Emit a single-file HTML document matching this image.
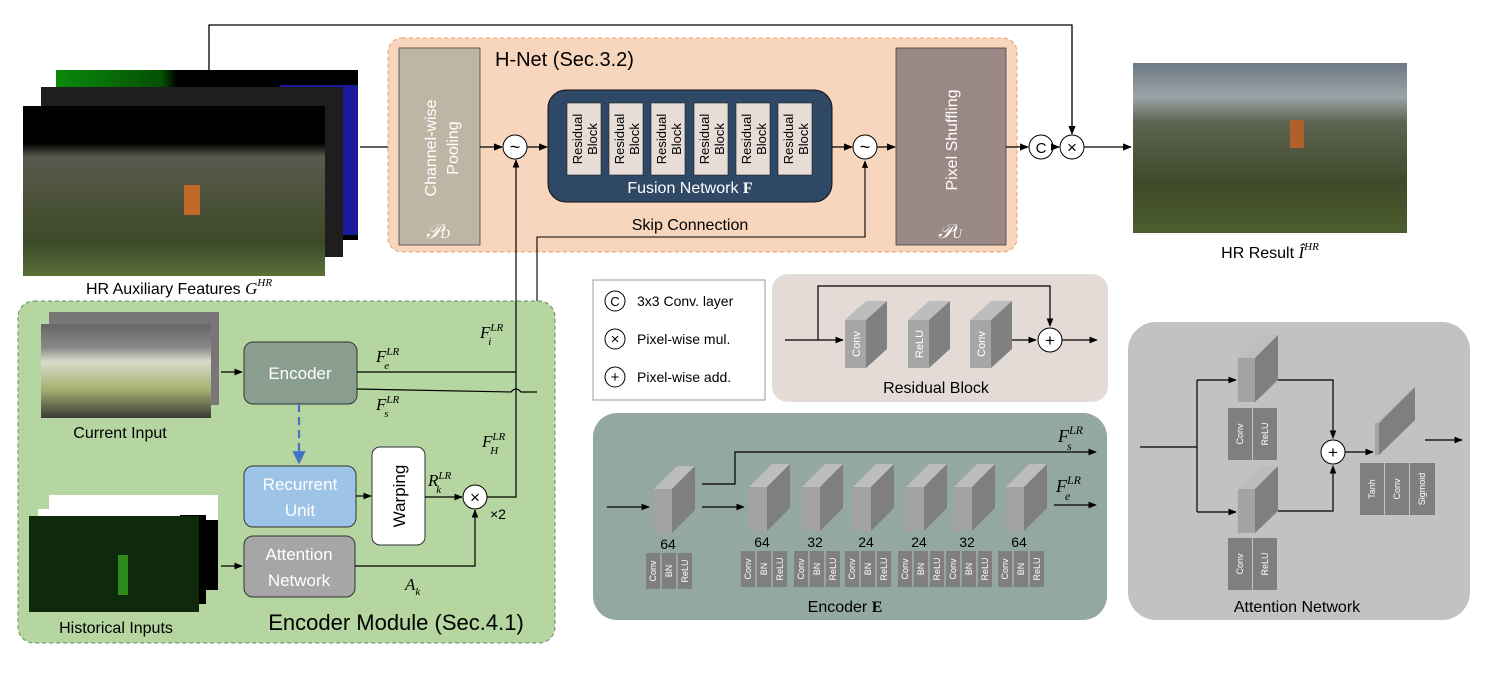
<!DOCTYPE html>
<html><head><meta charset="utf-8"><style>
html,body{margin:0;padding:0;background:#fff;}
svg{display:block;font-family:"Liberation Sans",sans-serif;}
.m{font-family:"Liberation Serif",serif;font-style:italic;}
</style></head><body>
<svg width="1512" height="680" viewBox="0 0 1512 680" xmlns="http://www.w3.org/2000/svg">
<defs>
<marker id="a" viewBox="0 0 10 10" refX="9" refY="5" markerWidth="7" markerHeight="7" orient="auto"><path d="M0,1 L10,5 L0,9 z" fill="#000"/></marker>
<marker id="ab" viewBox="0 0 10 10" refX="9" refY="5" markerWidth="6" markerHeight="6" orient="auto"><path d="M0,0 L10,5 L0,10 z" fill="#4472c4"/></marker>
<linearGradient id="land" x1="0" y1="0" x2="0" y2="1">
<stop offset="0" stop-color="#000"/><stop offset="0.22" stop-color="#000"/><stop offset="0.3" stop-color="#5a5a50"/><stop offset="0.55" stop-color="#4a5138"/><stop offset="0.8" stop-color="#3d4a2a"/><stop offset="1" stop-color="#5b7038"/></linearGradient>
<linearGradient id="res" x1="0" y1="0" x2="0" y2="1">
<stop offset="0" stop-color="#6d7a85"/><stop offset="0.2" stop-color="#9aa3a6"/><stop offset="0.35" stop-color="#5e6451"/><stop offset="0.7" stop-color="#3f4a2a"/><stop offset="1" stop-color="#4d5e2e"/></linearGradient>
<linearGradient id="cur" x1="0" y1="0" x2="0" y2="1">
<stop offset="0" stop-color="#666"/><stop offset="0.25" stop-color="#888"/><stop offset="0.4" stop-color="#d8dcc8"/><stop offset="0.7" stop-color="#a4b070"/><stop offset="1" stop-color="#3a3a34"/></linearGradient>
<linearGradient id="grn" x1="0" y1="0" x2="1" y2="0"><stop offset="0" stop-color="#0a8a0a"/><stop offset="0.35" stop-color="#045004"/><stop offset="0.4" stop-color="#000"/></linearGradient>
</defs>

<!-- top feedback line -->
<polyline points="209,70 209,25 1072,25 1072,134" fill="none" stroke="#000" stroke-width="1.3" marker-end="url(#a)"/>

<!-- HR auxiliary stack -->
<rect x="56" y="70" width="302" height="170" fill="url(#grn)"/>
<rect x="280" y="85" width="78" height="150" fill="#1a1a9a"/>
<rect x="41" y="87" width="302" height="170" fill="#1e1e1e"/>
<rect x="23" y="106" width="302" height="170" fill="url(#land)"/>
<rect x="184" y="185" width="16" height="30" fill="#c06a2a"/>
<text x="179" y="294" font-size="16" text-anchor="middle">HR Auxiliary Features <tspan class="m" font-size="17">G</tspan><tspan class="m" font-size="11" dy="-8">HR</tspan></text>
<line x1="360" y1="147" x2="396" y2="147" stroke="#000" stroke-width="1.3" marker-end="url(#a)"/>

<!-- H-Net -->
<rect x="388" y="38" width="629" height="214" rx="14" fill="#f8d5bd" stroke="#e8a070" stroke-width="1" stroke-dasharray="4,3"/>
<text x="495" y="66" font-size="20">H-Net (Sec.3.2)</text>
<rect x="399" y="48" width="81" height="197" fill="#bfb5a4" stroke="#444" stroke-width="0.8"/>
<text transform="translate(436,148) rotate(-90)" font-size="16" fill="#fff" text-anchor="middle">Channel-wise</text>
<text transform="translate(458,148) rotate(-90)" font-size="16" fill="#fff" text-anchor="middle">Pooling</text>
<text x="438" y="238" class="m" font-size="20" fill="#fff" text-anchor="middle">𝒫<tspan font-size="13">D</tspan></text>
<line x1="480" y1="147" x2="502" y2="147" stroke="#000" stroke-width="1.3" marker-end="url(#a)"/>
<circle cx="515" cy="147" r="12" fill="#fff" stroke="#000"/><text x="515" y="153" font-size="18" text-anchor="middle">~</text>
<line x1="527" y1="147" x2="547" y2="147" stroke="#000" stroke-width="1.3" marker-end="url(#a)"/>
<rect x="548" y="90" width="284" height="112" rx="18" fill="#2f4866" stroke="#111"/>
<g font-size="13" fill="#000">
<rect x="567" y="103" width="34" height="72" fill="#e8ddd6" stroke="#222" stroke-width="0.6"/><text transform="translate(582,139) rotate(-90)" text-anchor="middle">Residual</text><text transform="translate(597,139) rotate(-90)" text-anchor="middle">Block</text>
<rect x="609" y="103" width="34" height="72" fill="#e8ddd6" stroke="#222" stroke-width="0.6"/><text transform="translate(624,139) rotate(-90)" text-anchor="middle">Residual</text><text transform="translate(639,139) rotate(-90)" text-anchor="middle">Block</text>
<rect x="651" y="103" width="34" height="72" fill="#e8ddd6" stroke="#222" stroke-width="0.6"/><text transform="translate(666,139) rotate(-90)" text-anchor="middle">Residual</text><text transform="translate(681,139) rotate(-90)" text-anchor="middle">Block</text>
<rect x="694" y="103" width="34" height="72" fill="#e8ddd6" stroke="#222" stroke-width="0.6"/><text transform="translate(709,139) rotate(-90)" text-anchor="middle">Residual</text><text transform="translate(724,139) rotate(-90)" text-anchor="middle">Block</text>
<rect x="736" y="103" width="34" height="72" fill="#e8ddd6" stroke="#222" stroke-width="0.6"/><text transform="translate(751,139) rotate(-90)" text-anchor="middle">Residual</text><text transform="translate(766,139) rotate(-90)" text-anchor="middle">Block</text>
<rect x="778" y="103" width="34" height="72" fill="#e8ddd6" stroke="#222" stroke-width="0.6"/><text transform="translate(793,139) rotate(-90)" text-anchor="middle">Residual</text><text transform="translate(808,139) rotate(-90)" text-anchor="middle">Block</text>
</g>
<text x="690" y="193" font-size="16" fill="#fff" text-anchor="middle">Fusion Network  <tspan font-family="Liberation Serif" font-weight="bold">F</tspan></text>
<line x1="832" y1="147" x2="852" y2="147" stroke="#000" stroke-width="1.3" marker-end="url(#a)"/>
<circle cx="865" cy="147" r="12" fill="#fff" stroke="#000"/><text x="865" y="153" font-size="18" text-anchor="middle">~</text>
<line x1="877" y1="147" x2="895" y2="147" stroke="#000" stroke-width="1.3" marker-end="url(#a)"/>
<rect x="896" y="48" width="110" height="197" fill="#9a8884" stroke="#444" stroke-width="0.8"/>
<text transform="translate(957,140) rotate(-90)" font-size="16" fill="#fff" text-anchor="middle">Pixel Shuffling</text>
<text x="950" y="238" class="m" font-size="20" fill="#fff" text-anchor="middle">𝒫<tspan font-size="13">U</tspan></text>
<text x="690" y="230" font-size="16" text-anchor="middle">Skip Connection</text>
<polyline points="537,392 537,237 865,237 865,161" fill="none" stroke="#000" stroke-width="1.1" marker-end="url(#a)"/>
<line x1="1006" y1="147" x2="1028" y2="147" stroke="#000" stroke-width="1.3" marker-end="url(#a)"/>
<circle cx="1041" cy="147" r="12" fill="#fff" stroke="#000"/><text x="1041" y="153" font-size="15" text-anchor="middle">C</text>
<line x1="1053" y1="147" x2="1059" y2="147" stroke="#000" stroke-width="1.3" marker-end="url(#a)"/>
<circle cx="1072" cy="147" r="12" fill="#fff" stroke="#000"/><text x="1072" y="153" font-size="17" text-anchor="middle">×</text>
<line x1="1084" y1="147" x2="1131" y2="147" stroke="#000" stroke-width="1.3" marker-end="url(#a)"/>

<!-- HR Result -->
<rect x="1133" y="63" width="274" height="170" fill="url(#res)"/>
<rect x="1290" y="120" width="14" height="28" fill="#b0602a"/>
<text x="1270" y="258" font-size="16" text-anchor="middle">HR Result <tspan class="m" font-size="17">Î</tspan><tspan class="m" font-size="11" dy="-8">HR</tspan></text>

<!-- Encoder Module -->
<rect x="18" y="301" width="537" height="342" rx="16" fill="#b5d5a1" stroke="#6a8a5a" stroke-width="1" stroke-dasharray="4,3"/>
<rect x="49" y="312" width="170" height="93" fill="#777"/>
<rect x="41" y="324" width="170" height="94" fill="url(#cur)"/>
<text x="120" y="438" font-size="16" text-anchor="middle">Current Input</text>
<rect x="49" y="495" width="169" height="95" fill="#fff"/><rect x="160" y="520" width="58" height="70" fill="#000"/>
<rect x="38" y="509" width="168" height="95" fill="#fff"/><rect x="180" y="515" width="26" height="89" fill="#000"/>
<rect x="29" y="516" width="170" height="96" fill="#0f2a0a"/>
<rect x="118" y="555" width="10" height="40" fill="#2c8a1c"/>
<text x="116" y="633" font-size="16" text-anchor="middle">Historical Inputs</text>
<line x1="221" y1="372" x2="242" y2="372" stroke="#000" stroke-width="1.2" marker-end="url(#a)"/>
<line x1="221" y1="566" x2="242" y2="566" stroke="#000" stroke-width="1.2" marker-end="url(#a)"/>
<rect x="244" y="342" width="113" height="62" rx="9" fill="#8a9e90" stroke="#333"/>
<text x="300" y="379" font-size="17" fill="#fff" text-anchor="middle">Encoder</text>
<line x1="299" y1="404" x2="299" y2="463" stroke="#4472c4" stroke-width="2.2" stroke-dasharray="8,5" marker-end="url(#ab)"/>
<rect x="244" y="466" width="112" height="61" rx="9" fill="#9dc3e6" stroke="#333"/>
<text x="300" y="490" font-size="17" fill="#fff" text-anchor="middle">Recurrent</text>
<text x="300" y="516" font-size="17" fill="#fff" text-anchor="middle">Unit</text>
<rect x="244" y="536" width="111" height="61" rx="9" fill="#a6a6a6" stroke="#333"/>
<text x="299" y="560" font-size="17" fill="#fff" text-anchor="middle">Attention</text>
<text x="299" y="586" font-size="17" fill="#fff" text-anchor="middle">Network</text>
<line x1="356" y1="496" x2="371" y2="496" stroke="#000" stroke-width="1.2" marker-end="url(#a)"/>
<rect x="372" y="447" width="53" height="98" rx="8" fill="#fff" stroke="#333"/>
<text transform="translate(405,496) rotate(-90)" font-size="17" text-anchor="middle">Warping</text>
<line x1="425" y1="497" x2="462" y2="497" stroke="#000" stroke-width="1.2" marker-end="url(#a)"/>
<polyline points="355,566 475,566 475,510" fill="none" stroke="#000" stroke-width="1.2" marker-end="url(#a)"/>
<circle cx="475" cy="497" r="12" fill="#fff" stroke="#000"/><text x="475" y="503" font-size="17" text-anchor="middle">×</text>
<text x="490" y="519" font-size="14">×2</text>
<polyline points="487,497 516,497 516,160" fill="none" stroke="#000" stroke-width="1.2" marker-end="url(#a)"/>
<line x1="357" y1="372" x2="516" y2="372" stroke="#000" stroke-width="1.2"/>
<path d="M357,389 L511,392 Q516,386 521,392 L537,392" fill="none" stroke="#000" stroke-width="1.2"/>
<g class="m" font-size="17">
<text x="376" y="362">F<tspan font-size="11" dy="-7">LR</tspan><tspan font-size="11" dx="-15" dy="14">e</tspan></text>
<text x="376" y="410">F<tspan font-size="11" dy="-7">LR</tspan><tspan font-size="11" dx="-15" dy="14">s</tspan></text>
<text x="480" y="338">F<tspan font-size="11" dy="-7">LR</tspan><tspan font-size="11" dx="-15" dy="14">i</tspan></text>
<text x="482" y="447">F<tspan font-size="11" dy="-7">LR</tspan><tspan font-size="11" dx="-15" dy="14">H</tspan></text>
<text x="428" y="486">R<tspan font-size="11" dy="-7">LR</tspan><tspan font-size="11" dx="-15" dy="14">k</tspan></text>
<text x="405" y="590">A<tspan font-size="11" dy="5">k</tspan></text>
</g>
<text x="396" y="630" font-size="22" text-anchor="middle">Encoder Module (Sec.4.1)</text>

<!-- Legend -->
<rect x="593" y="280" width="172" height="120" fill="#fff" stroke="#999"/>
<g font-size="14">
<circle cx="615" cy="301" r="10" fill="#fff" stroke="#000"/><text x="615" y="306" text-anchor="middle" font-size="13">C</text><text x="637" y="306">3x3 Conv. layer</text>
<circle cx="615" cy="339" r="10" fill="#fff" stroke="#000"/><text x="615" y="344" text-anchor="middle" font-size="15">×</text><text x="637" y="344">Pixel-wise mul.</text>
<circle cx="615" cy="377" r="10" fill="#fff" stroke="#000"/><text x="615" y="382" text-anchor="middle" font-size="15">+</text><text x="637" y="382">Pixel-wise add.</text>
</g>

<!-- Residual Block panel -->
<rect x="772" y="274" width="336" height="128" rx="16" fill="#e4dbd6"/>
<line x1="785" y1="340" x2="843" y2="340" stroke="#000" stroke-width="1.2" marker-end="url(#a)"/>
<polyline points="818,340 818,286 1050,286 1050,326" fill="none" stroke="#000" stroke-width="1.2" marker-end="url(#a)"/>
<g>
<polygon points="845,320 866,301 887,301 866,320" fill="#bdbdbd"/><polygon points="866,320 887,301 887,349 866,368" fill="#808080"/><rect x="845" y="320" width="21" height="48" fill="#a6a6a6"/>
<text transform="translate(860,344) rotate(-90)" font-size="11" fill="#fff" text-anchor="middle">Conv</text>
<polygon points="908,320 929,301 950,301 929,320" fill="#bdbdbd"/><polygon points="929,320 950,301 950,349 929,368" fill="#808080"/><rect x="908" y="320" width="21" height="48" fill="#a6a6a6"/>
<text transform="translate(923,344) rotate(-90)" font-size="11" fill="#fff" text-anchor="middle">ReLU</text>
<polygon points="970,320 991,301 1012,301 991,320" fill="#bdbdbd"/><polygon points="991,320 1012,301 1012,349 991,368" fill="#808080"/><rect x="970" y="320" width="21" height="48" fill="#a6a6a6"/>
<text transform="translate(985,344) rotate(-90)" font-size="11" fill="#fff" text-anchor="middle">Conv</text>
</g>
<line x1="1012" y1="340" x2="1036" y2="340" stroke="#000" stroke-width="1.2" marker-end="url(#a)"/>
<circle cx="1050" cy="340" r="12" fill="#fff" stroke="#000"/><text x="1050" y="346" text-anchor="middle" font-size="17">+</text>
<line x1="1062" y1="340" x2="1097" y2="340" stroke="#000" stroke-width="1.2" marker-end="url(#a)"/>
<text x="936" y="393" font-size="16" text-anchor="middle">Residual Block</text>

<!-- Encoder E panel -->
<rect x="593" y="413" width="514" height="207" rx="24" fill="#93a8a0"/>
<line x1="607" y1="507" x2="649" y2="507" stroke="#000" stroke-width="1.2" marker-end="url(#a)"/>
<line x1="702" y1="507" x2="744" y2="507" stroke="#000" stroke-width="1.2" marker-end="url(#a)"/>
<polyline points="702,484 735,484 735,452 1096,452" fill="none" stroke="#000" stroke-width="1.2" marker-end="url(#a)"/>
<line x1="1054" y1="505" x2="1096" y2="505" stroke="#000" stroke-width="1.2" marker-end="url(#a)"/>
<g class="m" font-size="18">
<text x="1058" y="442">F<tspan font-size="12" dy="-8">LR</tspan><tspan font-size="12" dx="-16" dy="16">s</tspan></text>
<text x="1056" y="492">F<tspan font-size="12" dy="-8">LR</tspan><tspan font-size="12" dx="-16" dy="16">e</tspan></text>
</g>
<g id="blk">
<polygon points="654,489 672,489 695,466 677,466" fill="#bdbdbd"/><polygon points="672,489 695,466 695,510 672,533" fill="#7f7f7f"/><rect x="654" y="489" width="18" height="44" fill="#a3a3a3"/>
</g>
<use href="#blk" x="95" y="-2"/><use href="#blk" x="148" y="-2"/><use href="#blk" x="199" y="-2"/><use href="#blk" x="252" y="-2"/><use href="#blk" x="300" y="-2"/><use href="#blk" x="352" y="-2"/>
<g font-size="14" text-anchor="middle">
<text x="668" y="549">64</text><text x="762" y="547">64</text><text x="815" y="547">32</text><text x="866" y="547">24</text><text x="919" y="547">24</text><text x="967" y="547">32</text><text x="1019" y="547">64</text>
</g>
<g id="lb">
<rect x="646" y="553" width="14" height="36" fill="#7f7f7f"/><rect x="662" y="553" width="14" height="36" fill="#7f7f7f"/><rect x="678" y="553" width="14" height="36" fill="#7f7f7f"/>
<g font-size="9" fill="#fff" text-anchor="middle"><text transform="translate(656,571) rotate(-90)">Conv</text><text transform="translate(672,571) rotate(-90)">BN</text><text transform="translate(688,571) rotate(-90)">ReLU</text></g>
</g>
<use href="#lb" x="95" y="-2"/><use href="#lb" x="148" y="-2"/><use href="#lb" x="199" y="-2"/><use href="#lb" x="252" y="-2"/><use href="#lb" x="300" y="-2"/><use href="#lb" x="352" y="-2"/>
<text x="845" y="612" font-size="16" text-anchor="middle">Encoder  <tspan font-family="Liberation Serif" font-weight="bold">E</tspan></text>

<!-- Attention Network panel -->
<rect x="1128" y="322" width="342" height="298" rx="28" fill="#c2c2c2"/>
<line x1="1140" y1="447" x2="1197" y2="447" stroke="#000" stroke-width="1.2"/>
<polyline points="1197,380 1197,512" fill="none" stroke="#000" stroke-width="1.2"/>
<line x1="1197" y1="380" x2="1236" y2="380" stroke="#000" stroke-width="1.2" marker-end="url(#a)"/>
<line x1="1197" y1="512" x2="1236" y2="512" stroke="#000" stroke-width="1.2" marker-end="url(#a)"/>
<g>
<polygon points="1238,358 1255,358 1278,335 1261,335" fill="#bdbdbd"/><polygon points="1255,358 1278,335 1278,380 1255,402" fill="#7f7f7f"/><rect x="1238" y="358" width="17" height="44" fill="#a3a3a3"/>
<polygon points="1238,489 1255,489 1278,466 1261,466" fill="#bdbdbd"/><polygon points="1255,489 1278,466 1278,511 1255,533" fill="#7f7f7f"/><rect x="1238" y="489" width="17" height="44" fill="#a3a3a3"/>
</g>
<g font-size="9" fill="#fff" text-anchor="middle">
<rect x="1228" y="408" width="24" height="52" fill="#7f7f7f"/><rect x="1253" y="408" width="24" height="52" fill="#7f7f7f"/>
<text transform="translate(1243,434) rotate(-90)">Conv</text><text transform="translate(1268,434) rotate(-90)">ReLU</text>
<rect x="1228" y="538" width="24" height="52" fill="#7f7f7f"/><rect x="1253" y="538" width="24" height="52" fill="#7f7f7f"/>
<text transform="translate(1243,564) rotate(-90)">Conv</text><text transform="translate(1268,564) rotate(-90)">ReLU</text>
<rect x="1360" y="463" width="24" height="52" fill="#7f7f7f"/><rect x="1385" y="463" width="24" height="52" fill="#7f7f7f"/><rect x="1410" y="463" width="25" height="52" fill="#7f7f7f"/>
<text transform="translate(1375,489) rotate(-90)">Tanh</text><text transform="translate(1400,489) rotate(-90)">Conv</text><text transform="translate(1425,489) rotate(-90)">Sigmoid</text>
</g>
<polyline points="1278,380 1333,380 1333,438" fill="none" stroke="#000" stroke-width="1.2" marker-end="url(#a)"/>
<polyline points="1278,511 1333,511 1333,466" fill="none" stroke="#000" stroke-width="1.2" marker-end="url(#a)"/>
<circle cx="1333" cy="452" r="12" fill="#fff" stroke="#000"/><text x="1333" y="458" text-anchor="middle" font-size="17">+</text>
<line x1="1345" y1="452" x2="1373" y2="452" stroke="#000" stroke-width="1.2" marker-end="url(#a)"/>
<polygon points="1375,423 1379,423 1415,387 1411,387" fill="#bdbdbd"/>
<polygon points="1379,423 1415,387 1415,420 1379,455" fill="#7f7f7f"/>
<rect x="1375" y="423" width="4" height="32" fill="#a3a3a3"/>
<line x1="1425" y1="440" x2="1462" y2="440" stroke="#000" stroke-width="1.2" marker-end="url(#a)"/>
<text x="1297" y="612" font-size="16" text-anchor="middle">Attention Network</text>
</svg>
</body></html>
